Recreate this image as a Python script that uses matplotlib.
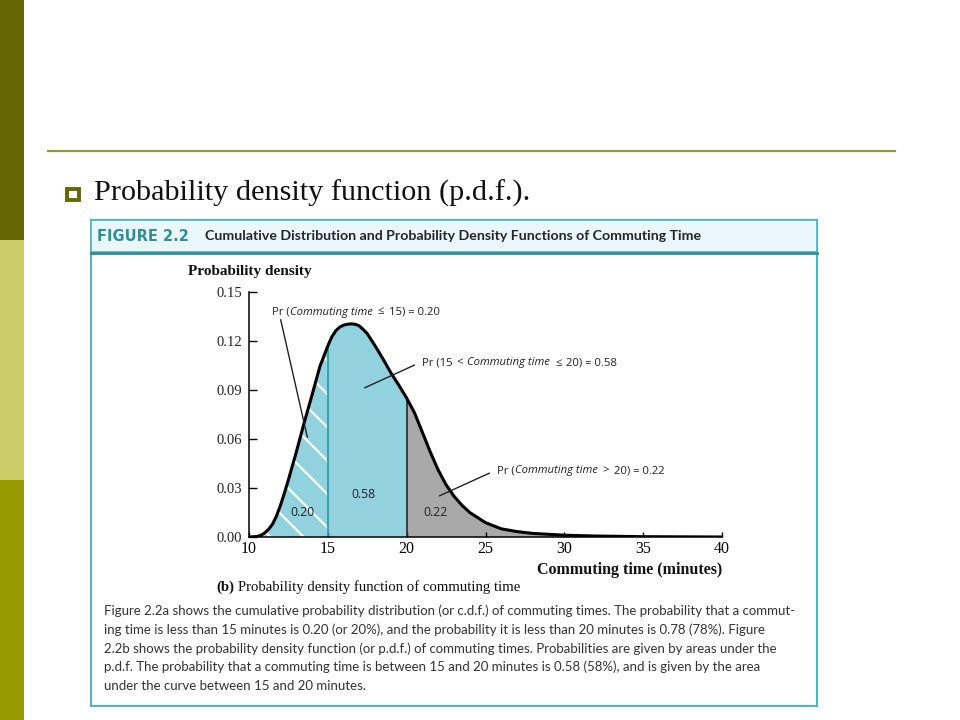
import matplotlib
matplotlib.use("Agg")
import matplotlib.pyplot as plt
import numpy as np
from matplotlib.patches import Rectangle

# ---------------- data ----------------
minutes = [10.0, 10.5, 10.75, 11.0, 11.25, 11.5, 11.75, 12.0, 12.25, 12.5, 13.0, 13.5,
           14.0, 14.5, 15.0, 15.25, 15.5, 15.75, 16.0, 16.25, 16.5, 16.75, 17.0,
           17.25, 17.5, 18.0, 18.5, 19.0, 19.5, 19.75, 20.0, 20.25, 20.5, 21.0, 21.5,
           22.0, 22.5, 23.0, 23.5, 24.0, 25.0, 26.0, 27.0, 28.0, 30.0, 32.0, 35.0, 40.0]
density = [0.0, 0.0003, 0.001, 0.0025, 0.0048, 0.008, 0.013, 0.0195, 0.027, 0.035, 0.052, 0.070,
           0.087, 0.1045, 0.117, 0.1225, 0.1262, 0.1285, 0.1297, 0.1303, 0.1305, 0.1302, 0.1292,
           0.127, 0.1245, 0.117, 0.109, 0.1005, 0.093, 0.089, 0.085, 0.0805, 0.076, 0.064, 0.052,
           0.041, 0.032, 0.025, 0.0195, 0.015, 0.0088, 0.005, 0.0033, 0.0022, 0.0011, 0.0006, 0.0002, 0.0]
x_ticks = [10, 15, 20, 25, 30, 35, 40]
y_ticks = [0.00, 0.03, 0.06, 0.09, 0.12, 0.15]
y_tick_labels = ["0.00", "0.03", "0.06", "0.09", "0.12", "0.15"]
area_labels = ["0.20", "0.58", "0.22"]
cut_low, cut_high = 15.0, 20.0

caption_lines = [
    "Figure 2.2a shows the cumulative probability distribution (or c.d.f.) of commuting times. The probability that a commut-",
    "ing time is less than 15 minutes is 0.20 (or 20%), and the probability it is less than 20 minutes is 0.78 (78%). Figure",
    "2.2b shows the probability density function (or p.d.f.) of commuting times. Probabilities are given by areas under the",
    "p.d.f. The probability that a commuting time is between 15 and 20 minutes is 0.58 (58%), and is given by the area",
    "under the curve between 15 and 20 minutes.",
]

# ---------------- colours / fonts ----------------
BLUE = "#92D2DF"
GRAY = "#A9A9A9"
TEAL = "#4FB4C2"
TEAL_DARK = "#2E8F9C"
SERIF = ["Liberation Serif", "DejaVu Serif"]
SANS = ["Open Sans", "DejaVu Sans"]
CAP = ["Lato", "DejaVu Sans"]

fig = plt.figure(figsize=(9.6, 7.2), dpi=100)
bg = fig.add_axes([0, 0, 1, 1])
bg.set_xlim(0, 960)
bg.set_ylim(720, 0)
bg.axis("off")
renderer = fig.canvas.get_renderer()


def rich(x, y, parts, size, family, color="#222222", va="center"):
    for s, style, weight, gap in parts:
        t = bg.text(x, y, s, fontsize=size, family=family, style=style,
                    weight=weight, color=color, ha="left", va=va)
        bb = t.get_window_extent(renderer)
        x += bb.width + gap


# slide decoration
bg.add_patch(Rectangle((0, 0), 24, 240, color="#666600", lw=0))
bg.add_patch(Rectangle((0, 240), 24, 240, color="#CCCC66", lw=0))
bg.add_patch(Rectangle((0, 480), 24, 240, color="#999900", lw=0))
bg.plot([48, 895], [151, 151], color="#999933", lw=1.6)
bg.add_patch(Rectangle((66.5, 188.5), 12, 11, facecolor="white", edgecolor="#666600", lw=2.8))
bg.text(94, 193, "Probability density function (p.d.f.).", fontsize=21.8, family=SERIF,
        color="#111111", ha="left", va="center")

# figure box
bg.add_patch(Rectangle((91, 220), 726, 486, facecolor="white", edgecolor=TEAL, lw=1.5))
bg.add_patch(Rectangle((91, 220), 726, 32, facecolor="#E9F6FB", edgecolor=TEAL, lw=1.2))
bg.plot([91, 817], [252.5, 252.5], color=TEAL_DARK, lw=2)
bg.text(97, 236.5, "FIGURE 2.2", fontsize=10.5, family=["DejaVu Sans"],
        weight="bold", color=TEAL_DARK, ha="left", va="center")
bg.text(205, 236.5, "Cumulative Distribution and Probability Density Functions of Commuting Time",
        fontsize=10.2, family=CAP, weight="bold", color="#262626", ha="left", va="center")

# ---------------- chart ----------------
ax = fig.add_axes([249 / 960, 1 - 537 / 720, 473 / 960, 245 / 720])
ax.patch.set_alpha(0)
x = np.array(minutes)
y = np.array(density)
m1 = x <= cut_low
m2 = (x >= cut_low) & (x <= cut_high)
m3 = x >= cut_high
plt.rcParams["hatch.linewidth"] = 1.6
ax.fill_between(x[m1], 0, y[m1], facecolor=BLUE, edgecolor="white", hatch="\\", lw=0)
ax.fill_between(x[m2], 0, y[m2], facecolor=BLUE, lw=0)
ax.fill_between(x[m3], 0, y[m3], facecolor=GRAY, lw=0)
y15 = y[x == cut_low][0]
y20 = y[x == cut_high][0]
ax.plot([cut_low, cut_low], [0, y15], color="#2C9DAD", lw=1.3)
ax.plot([cut_high, cut_high], [0, y20], color="#333333", lw=1.3)
ax.plot(x, y, color="black", lw=2.2, solid_joinstyle="round")

ax.set_xlim(10, 40)
ax.set_ylim(0, 0.15)
ax.set_xticks(x_ticks)
ax.set_xticklabels([str(v) for v in x_ticks], family=SERIF, fontsize=11.5)
ax.set_yticks(y_ticks)
ax.set_yticklabels(y_tick_labels, family=SERIF, fontsize=10.5, color="#222222")
ax.tick_params(axis="y", direction="in", length=5.5, width=1, pad=5)
ax.tick_params(axis="x", direction="in", length=3.5, width=1, pad=3)
for s in ["top", "right"]:
    ax.spines[s].set_visible(False)
for s in ["left", "bottom"]:
    ax.spines[s].set_linewidth(1.1)

# annotations (leader lines + texts)
lead = dict(color="#222222", lw=1)
ax.annotate("", xy=(13.74, 0.0594), xytext=(11.97, 0.1347), arrowprops=dict(arrowstyle="-", **lead))
ax.annotate("", xy=(17.17, 0.0906), xytext=(20.66, 0.106), arrowprops=dict(arrowstyle="-", **lead))
ax.annotate("", xy=(21.92, 0.0245), xytext=(25.41, 0.0398), arrowprops=dict(arrowstyle="-", **lead))

AS = 8.1
rich(272, 312, [("Pr (", "normal", "normal", 0), ("Commuting time", "italic", "normal", 5),
                ("\u2264", "normal", "normal", 5), ("15) = " + area_labels[0], "normal", "normal", 0)],
     AS, SANS)
rich(422, 363, [("Pr (15", "normal", "normal", 4), ("<", "normal", "normal", 4),
                ("Commuting time", "italic", "normal", 5),
                ("\u2264", "normal", "normal", 5), ("20) = " + area_labels[1], "normal", "normal", 0)],
     AS, SANS)
rich(497, 471, [("Pr (", "normal", "normal", 0), ("Commuting time", "italic", "normal", 5),
                (">", "normal", "normal", 5), ("20) = " + area_labels[2], "normal", "normal", 0)],
     AS, SANS)

ax.text(13.42, 0.0153, area_labels[0], fontsize=8.8, family=SANS, color="#222222", ha="center", va="center")
ax.text(17.23, 0.0263, area_labels[1], fontsize=8.8, family=SANS, color="#222222", ha="center", va="center")
ax.text(21.8, 0.0153, area_labels[2], fontsize=8.8, family=SANS, color="#222222", ha="center", va="center")

# axis titles
bg.text(188, 271, "Probability density", fontsize=11, family=SERIF, weight="bold",
        color="#111111", ha="left", va="center")
bg.text(722, 570, "Commuting time (minutes)", fontsize=11.5, family=SERIF, weight="bold",
        color="#111111", ha="right", va="center")
rich(216, 587, [("(b)", "normal", "bold", 4),
                ("Probability density function of commuting time", "normal", "normal", 0)],
     10.6, SERIF, color="#111111")

# caption
for i, line in enumerate(caption_lines):
    bg.text(104, 611 + i * 18.7, line, fontsize=9.55, family=CAP, color="#333333",
            ha="left", va="center")

fig.savefig("out.png", dpi=100)
